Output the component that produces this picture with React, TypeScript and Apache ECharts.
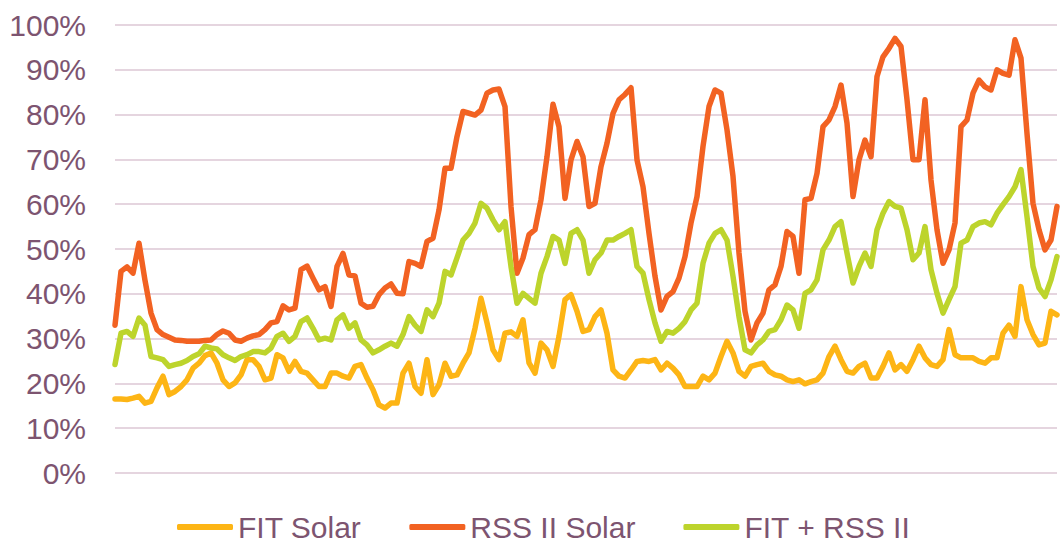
import React, { useEffect, useRef } from "react";
import * as echarts from "echarts";

const seriesNames = ["FIT Solar", "RSS II Solar", "FIT + RSS II"];
const seriesColors = ["#FDB515", "#F26222", "#BDD42C"];

const fitSolar = [
  16.5, 16.5, 16.4, 16.7, 17.1, 15.6, 16, 19, 21.6, 17.5, 18.2, 19.3, 20.8, 23.4, 24.5, 26.2, 26.8, 24.5, 20.8, 19.3, 20.1, 21.9, 25.3, 25.3, 23.8, 20.8, 21.2, 26.4,
  25.7, 22.7, 24.9, 22.7, 22.3, 20.8, 19.3, 19.3, 22.3, 22.3, 21.6, 21.2, 23.8, 24.2, 21.2, 18.6, 15.2, 14.5, 15.6, 15.6, 22.3, 24.5, 19.3, 17.8, 25.3, 17.5, 19.7, 24.5, 21.6, 21.9, 24.5, 26.8, 32.3, 39, 33.5, 27.5, 25.3, 31.2, 31.5, 30.5, 34.2, 24.6, 22.3,
  29, 27.5, 23.8, 30.5, 38.7, 39.8, 36.1, 31.6, 32, 34.9, 36.4, 31.2, 23, 21.6, 21.2, 23, 24.9, 25.1, 24.9, 25.3, 23, 24.5, 23.4, 21.9, 19.3, 19.3, 19.3, 21.6, 20.8, 22.3, 26, 29.4, 26.8, 22.7, 21.6, 23.8, 24.2, 24.5, 22.7, 21.9, 21.6, 20.8, 20.4, 20.8,
  19.9, 20.4, 20.8, 22.3, 26, 28.3, 25.3, 22.7, 22.3, 23.8, 24.5, 21.2, 21.2, 23.8, 26.8, 23, 24.2, 22.7, 25.3, 28.3, 25.7, 24.2, 23.8, 25.3, 32, 26.4, 25.7, 25.7, 25.7, 24.9, 24.5, 25.7, 25.7, 31.2, 33, 30.5, 41.6, 34.2, 30.9, 28.6, 29, 36.1, 35.3,
];

const rssSolar = [
  33, 45, 46, 44.6, 51.3, 43, 35.7, 32, 30.9, 30.3, 29.7, 29.6, 29.4, 29.4, 29.4, 29.6, 29.7, 30.9, 31.7, 31.2, 29.7, 29.4, 30.1, 30.6, 30.9, 32, 33.5, 33.8,
  37.3, 36.4, 36.8, 45.4, 46.2, 43.5, 40.9, 41.6, 37.2, 46.1, 49, 44.2, 44, 37.9, 37, 37.2, 39.8, 41.3, 42.2, 40.1, 40, 47.2, 46.8, 46.1, 51.7, 52.4, 58.7, 68, 68, 75.1, 80.7, 80.3, 79.9, 81, 84.8, 85.5, 85.7, 81.8, 59.5, 44.6, 48, 53.2, 54.3,
  61, 70.6, 82.3, 77.3, 61.3, 69.9, 74, 70.6, 59.5, 60.2, 68.4, 73.6, 80.3, 83.3, 84.5, 86, 69.9, 63.9, 53.5, 43.9, 36.4, 39.4, 40.5, 43.5, 48.3, 55.8, 61.7, 72.9, 81.8, 85.5, 84.8, 76.6, 66.2, 49.1, 36.1, 29.7, 33.5, 35.7, 40.9, 42, 46.1, 53.9, 52.8, 44.6,
  61, 61.3, 66.9, 77.3, 78.8, 81.8, 86.6, 78.1, 61.7, 69.9, 74.3, 70.6, 88.5, 92.9, 94.8, 97, 95.2, 83.3, 69.9, 69.9, 83.3, 65.4, 54.3, 46.8, 49.8, 55.8, 77.3, 78.8, 84.8, 87.7, 86.2, 85.5, 90, 89.2, 88.8, 96.7, 92.6, 75.8, 60.2, 54.3, 49.8, 52, 59.5,
];

const fitPlusRss = [
  24.2, 31.2, 31.6, 30.5, 34.6, 33, 26, 25.7, 25.3, 23.8, 24.2, 24.5, 25.1, 26, 26.6, 28.3, 27.9, 27.7, 26.4, 25.7, 25.1, 26, 26.4, 27.1, 27.1, 26.8, 27.9, 30.5,
  31.2, 29.4, 30.5, 33.8, 34.6, 32.3, 29.7, 30.1, 29.7, 34.2, 35.3, 32.3, 33.5, 29.7, 28.6, 26.8, 27.5, 28.3, 29, 28.3, 30.9, 34.9, 33, 31.6, 36.4, 34.9, 37.9, 45, 44.2, 48, 52, 53.5, 55.8, 60.2, 59.1, 56.5, 54.3, 56.1, 46.1, 37.9, 40.1, 39, 37.9,
  44.6, 48.3, 52.8, 52, 46.8, 53.5, 54.3, 52, 44.6, 47.6, 49.1, 52, 52, 52.8, 53.5, 54.3, 46.1, 44.6, 38.7, 33.5, 29.4, 31.6, 31.2, 32.3, 33.8, 36.4, 37.9, 46.8, 51.3, 53.5, 54.3, 52, 43.9, 34.9, 27.5, 26.8, 28.6, 29.7, 31.6, 32, 34.2, 37.5, 36.4, 32.3,
  40.1, 40.9, 43.1, 49.8, 52, 55, 56.1, 49.1, 42.4, 46.1, 49.1, 46.1, 54.3, 58, 60.6, 59.5, 59.1, 54.3, 47.6, 49.1, 55, 45.4, 40.1, 35.7, 38.7, 41.6, 51.3, 52, 55, 55.8, 56.1, 55.4, 58, 59.9, 61.7, 63.9, 67.7, 57.2, 46.1, 41.3, 39.4, 43.1, 48.3,
];

const categories = fitSolar.map((_, i) => String(i + 1));

export default function App() {
  const ref = useRef<HTMLDivElement>(null);
  useEffect(() => {
    if (!ref.current) return;
    const chart = echarts.init(ref.current, null, { renderer: "svg" });
    const font = "'Liberation Sans', Arial, sans-serif";
    const textColor = "#7D5470";
    const data = [fitSolar, rssSolar, fitPlusRss];
    chart.setOption({
      animation: false,
      backgroundColor: "#ffffff",
      grid: { left: 115, right: 4, top: 25, bottom: 71 },
      legend: {
        data: seriesNames,
        left: 177,
        top: 512,
        padding: 0,
        itemWidth: 56,
        itemHeight: 6,
        itemGap: 48,
        icon: "roundRect",
        textStyle: { fontFamily: font, fontSize: 30, color: textColor, lineHeight: 28 },
      },
      xAxis: {
        type: "category",
        data: categories,
        boundaryGap: false,
        show: false,
      },
      yAxis: {
        type: "value",
        min: 0,
        max: 100,
        interval: 10,
        axisLine: { show: false },
        axisTick: { show: false },
        axisLabel: {
          formatter: "{value}%",
          margin: 29,
          fontFamily: font,
          fontSize: 30,
          color: textColor,
        },
        splitLine: { lineStyle: { color: "#E5D5DF", width: 2 } },
      },
      series: data.map((d, k) => ({
        name: seriesNames[k],
        type: "line",
        data: d,
        symbol: "none",
        color: seriesColors[k],
        lineStyle: { width: 5.5, color: seriesColors[k], join: "round", cap: "round" },
      })),
    });
    return () => chart.dispose();
  }, []);
  return (
    <div
      ref={ref}
      style={{ position: "fixed", left: 0, top: 0, width: 1061, height: 544 }}
    />
  );
}
